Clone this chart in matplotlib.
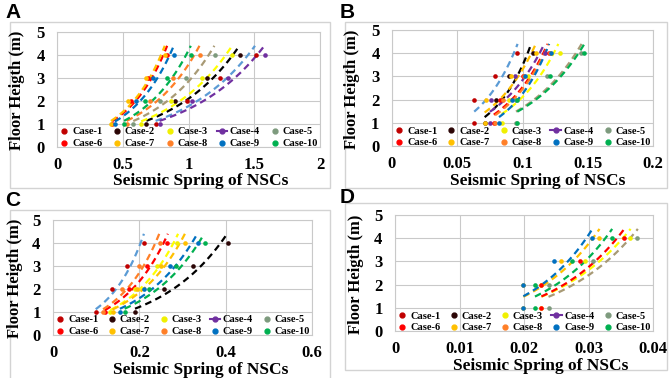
import numpy as np
import matplotlib
matplotlib.use('Agg')
import matplotlib.pyplot as plt
from matplotlib.lines import Line2D
from matplotlib.patches import Rectangle

floors = [1, 2, 3, 4]
cases = ['Case-1', 'Case-2', 'Case-3', 'Case-4', 'Case-5',
         'Case-6', 'Case-7', 'Case-8', 'Case-9', 'Case-10']
point_colors = ['#C00000', '#2B0505', '#F0F000', '#7030A0', '#7D9A7D',
                '#FF0000', '#FFC000', '#FF7F27', '#0070C0', '#00B050']
trend_colors = ['#5B9BD5', '#000000', '#FFFF00', '#7030A0', '#A89A75',
                '#FF0000', '#FFC000', '#FF7F27', '#0070C0', '#00B050']

nan = float('nan')
# x-values (seismic spring) at floors 1..4, one list per case
A_x = [[0.75, 0.99, 1.24, 1.51], [0.68, 0.90, 1.14, 1.39], [0.64, 0.87, 1.10, 1.33],
       [0.78, 1.03, 1.30, 1.58], [0.58, 0.78, 0.98, 1.20], [0.42, 0.56, 0.69, 0.84],
       [0.41, 0.54, 0.68, 0.82], [0.53, 0.71, 0.88, 1.09], [0.44, 0.60, 0.73, 0.89],
       [0.51, 0.67, 0.84, 1.02]]
B_x = [[0.063, 0.063, 0.079, 0.096], [0.071, 0.080, 0.090, 0.108], [0.084, 0.090, 0.104, 0.129],
       [0.075, 0.076, 0.094, 0.117], [0.095, 0.095, 0.119, 0.145], [0.078, 0.083, 0.100, 0.120],
       [0.071, 0.072, 0.091, 0.110], [0.079, 0.085, 0.101, 0.121], [0.082, 0.092, 0.102, 0.122],
       [0.096, 0.096, 0.121, 0.147]]
C_x = [[0.099, 0.136, 0.172, 0.211], [0.190, 0.257, 0.325, 0.406], [0.133, 0.190, 0.240, 0.288],
       [nan, nan, nan, nan], [nan, nan, nan, nan], [0.120, 0.175, 0.218, 0.265],
       [0.138, 0.195, 0.250, 0.305], [0.116, 0.160, 0.200, 0.247], [0.155, 0.210, 0.272, 0.335],
       [0.166, 0.222, 0.286, 0.351]]
D_x = [[nan, nan, nan, nan], [nan, nan, nan, nan], [0.0227, 0.0227, 0.0295, 0.0364],
       [nan, nan, nan, nan], [0.0238, 0.0238, 0.0307, 0.0375], [0.0227, 0.0227, 0.0287, 0.0355],
       [0.0199, 0.0199, 0.0257, 0.0316], [nan, nan, nan, nan], [0.0199, 0.0199, 0.0247, 0.0306],
       [0.0217, 0.0217, 0.0274, 0.0336]]

A_ticks = [0, 0.5, 1, 1.5, 2]
A_labels = ['0', '0.5', '1', '1.5', '2']
B_ticks = [0, 0.05, 0.1, 0.15, 0.2]
B_labels = ['0', '0.05', '0.1', '0.15', '0.2']
C_ticks = [0, 0.2, 0.4, 0.6]
C_labels = ['0', '0.2', '0.4', '0.6']
D_ticks = [0, 0.01, 0.02, 0.03, 0.04]
D_labels = ['0', '0.01', '0.02', '0.03', '0.04']
y_ticks = [0, 1, 2, 3, 4, 5]

W, H = 671, 378
fig = plt.figure(figsize=(W / 100, H / 100), dpi=100)

SERIF = 'Liberation Serif'
GRID = '#C9C9C9'

# letter, data, ticks, labels, axes px (l, r, t, b), box px (l, r, t, b), letter px (x, baseline),
# ylabel right-edge px, xlabel (center px, top px)
panels = [
    ('A', A_x, A_ticks, A_labels, (57, 320, 32, 147), (10, 330, 22, 188), (5, 18), 25, (201, 173)),
    ('B', B_x, B_ticks, B_labels, (392, 653, 30, 146), (345, 667, 22, 188), (340, 18), 360, (538, 173)),
    ('C', C_x, C_ticks, C_labels, (53, 312, 220, 335), (10, 330, 210, 380), (5, 206), 23, (201, 362)),
    ('D', D_x, D_ticks, D_labels, (395, 653, 215, 331), (345, 667, 203, 370), (340, 203), 364, (541, 358)),
]

for letter, data, ticks, labels, apx, bpx, lpx, ylx, xlp in panels:
    l, r, t, b = apx
    ax = fig.add_axes([l / W, 1 - b / H, (r - l) / W, (b - t) / H])
    ax.set_xlim(ticks[0], ticks[-1])
    ax.set_ylim(0, 5)
    ax.set_xticks(ticks)
    ax.set_xticklabels(labels, fontsize=12, fontweight='bold', family=SERIF)
    ax.set_yticks(y_ticks)
    ax.set_yticklabels([str(v) for v in y_ticks], fontsize=12, fontweight='bold', family=SERIF)
    ax.tick_params(axis='x', length=0, pad=7)
    ax.tick_params(axis='y', length=0, pad=9)
    ax.grid(True, color=GRID, lw=0.8)
    ax.set_axisbelow(True)
    for sp in ax.spines.values():
        sp.set_color(GRID)
        sp.set_linewidth(0.8)

    for i, xs in enumerate(data):
        xs = np.array(xs, float)
        ys = np.array(floors, float)
        ok = ~np.isnan(xs)
        if ok.sum() < 2:
            continue
        bcoef, lna = np.polyfit(xs[ok], np.log(ys[ok]), 1)
        x_end = (np.log(4.4) - lna) / bcoef
        xx = np.linspace(xs[ok].min(), x_end, 80)
        ax.plot(xx, np.exp(lna + bcoef * xx), ls=(0, (3, 2)), color=trend_colors[i],
                lw=1.6, zorder=2)
    for i, xs in enumerate(data):
        ax.scatter(xs, floors, s=11, color=point_colors[i], zorder=3, linewidths=0)

    handles = []
    for i, c in enumerate(cases):
        if i == 3:
            handles.append(Line2D([], [], color=point_colors[i], marker='o', ms=3.5, lw=1.5))
        else:
            handles.append(Line2D([], [], color=point_colors[i], marker='o', ms=3.5, ls='none'))
    order = [0, 5, 1, 6, 2, 7, 3, 8, 4, 9]
    ax.legend([handles[k] for k in order], [cases[k] for k in order], ncol=5,
              loc='lower left', bbox_to_anchor=(0.0, -0.03, 1.0, 0.28), mode='expand',
              frameon=False, handlelength=1.0, handletextpad=0.25, labelspacing=0.25,
              borderaxespad=0.0, borderpad=0.2, columnspacing=0.3,
              prop={'family': SERIF, 'weight': 'bold', 'size': 7.5})

    ax.set_ylabel('Floor Heigth (m)', fontsize=12, fontweight='bold', family=SERIF)
    ax.yaxis.set_label_coords((ylx - l) / (r - l), 0.49)
    ax.set_xlabel('Seismic Spring of NSCs', fontsize=12.5, fontweight='bold', family=SERIF)
    ax.xaxis.set_label_coords((xlp[0] - l) / (r - l), (b - xlp[1]) / (b - t))

    bl, br, bt, bb = bpx
    fig.add_artist(Rectangle((bl / W, 1 - bb / H), (br - bl) / W, (bb - bt) / H,
                             transform=fig.transFigure, fill=False, ec='#D3D3D3', lw=1.0,
                             zorder=0))
    fig.text(lpx[0] / W, 1 - lpx[1] / H, letter, fontsize=15, fontweight='bold',
             family='Liberation Sans', va='baseline', ha='left')

fig.savefig('out.png', dpi=100)
